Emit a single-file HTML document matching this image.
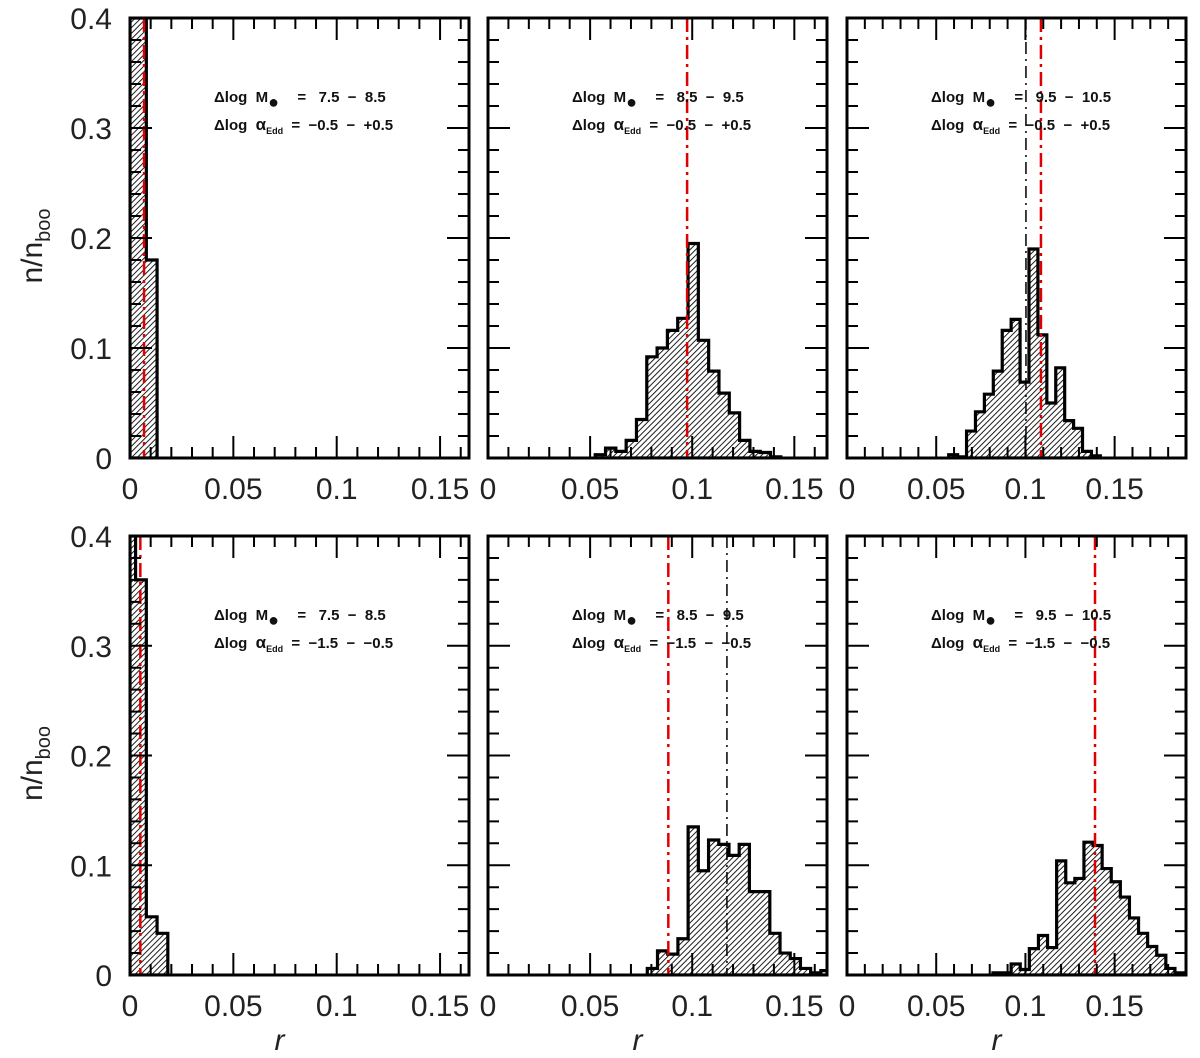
<!DOCTYPE html>
<html><head><meta charset="utf-8">
<style>
html,body{margin:0;padding:0;background:#fff;}
svg{display:block;font-family:"Liberation Sans","DejaVu Sans",sans-serif;}
.tl{font-size:30px;fill:#222;}
.ann{font-size:15px;font-weight:bold;fill:#111;white-space:pre;}
</style></head>
<body>
<svg id="fig" width="1200" height="1058" viewBox="0 0 1200 1058" xmlns="http://www.w3.org/2000/svg">
<defs>
<pattern id="hatch" patternUnits="userSpaceOnUse" width="4" height="4" patternTransform="rotate(45)">
<rect width="4" height="4" fill="#fff"/>
<line x1="0" y1="0" x2="0" y2="4" stroke="#111" stroke-width="1.9"/>
</pattern>
</defs>
<g id="root"></g>
</svg>
<script>
// ---- data ----
const panelNames = ["top-left","top-middle","top-right","bottom-left","bottom-middle","bottom-right"];
const massRanges = ["7.5  −  8.5","8.5  −  9.5","9.5  −  10.5","7.5  −  8.5","8.5  −  9.5","9.5  −  10.5"];
const eddRanges = ["−0.5  −  +0.5","−0.5  −  +0.5","−0.5  −  +0.5","−1.5  −  −0.5","−1.5  −  −0.5","−1.5  −  −0.5"];
const binStarts = [-0.0025, 0.0525, 0.057, -0.0025, 0.078, 0.0818];
const binWidths = [0.0052, 0.00505, 0.005, 0.0052, 0.005, 0.0051];
const valuesTL = [0.45, 0.45, 0.18];
const valuesTM = [0.003,0.009,0.006,0.016,0.035,0.092,0.100,0.116,0.127,0.195,0.107,0.079,0.059,0.041,0.016,0.006,0.005,0.001];
const valuesTR = [0.003,0.001,0.0245,0.042,0.058,0.079,0.116,0.126,0.069,0.19,0.112,0.05,0.082,0.034,0.027,0.006,0.002];
const valuesBL = [0.45, 0.36, 0.053, 0.038];
const valuesBM = [0.006,0.022,0.019,0.033,0.135,0.095,0.123,0.119,0.109,0.119,0.076,0.076,0.038,0.020,0.015,0.006,0.002,0.004];
const valuesBR = [0.002,0.002,0.010,0.005,0.024,0.036,0.025,0.104,0.084,0.088,0.121,0.118,0.097,0.085,0.071,0.052,0.038,0.026,0.018,0.006,0.002];
const redLines = [0.0068, 0.0975, 0.1087, 0.005, 0.0883, 0.139];
const blackLines = [null, null, 0.1003, null, 0.117, null];
const xTicks = [0, 0.05, 0.1, 0.15];
const xTickLabels = ["0", "0.05", "0.1", "0.15"];
const yTicks = [0, 0.1, 0.2, 0.3, 0.4];
const yTickLabels = ["0", "0.1", "0.2", "0.3", "0.4"];
const rMax = [0.164, 0.166, 0.19, 0.164, 0.166, 0.19];
const yMax = 0.4;

// ---- layout ----
const colX = [[130,469],[488,827],[847,1186]];
const rowY = [[18,458],[536,975]];
const NS = "http://www.w3.org/2000/svg";
const root = document.getElementById('root');
function mk(tag, attrs, parent){
  const e = document.createElementNS(NS, tag);
  for (const k in attrs) e.setAttribute(k, attrs[k]);
  (parent||root).appendChild(e);
  return e;
}
const allValues = [valuesTL, valuesTM, valuesTR, valuesBL, valuesBM, valuesBR];

for (let p = 0; p < 6; p++) {
  const row = Math.floor(p/3), col = p%3;
  const x0 = colX[col][0], x1 = colX[col][1];
  const yTop = rowY[row][0], yBot = rowY[row][1];
  const xs = r => x0 + (r / rMax[p]) * (x1 - x0);
  const ys = v => yBot - (Math.min(v, yMax) / yMax) * (yBot - yTop);
  const g = mk('g', {});
  
  
  const clipId = 'clip' + p;
  const cp = mk('clipPath', {id: clipId}, g);
  mk('rect', {x: x0, y: yTop, width: x1-x0, height: yBot-yTop}, cp);

  // histogram
  const vals = allValues[p];
  let d = '';
  let started = false;
  for (let i = 0; i < vals.length; i++) {
    let a = binStarts[p] + i*binWidths[p], b = a + binWidths[p];
    a = Math.max(a, 0); b = Math.min(b, rMax[p]);
    const xa = xs(a), xb = xs(b), yv = ys(vals[i]);
    if (!started) { d += 'M' + xa + ',' + yBot + ' L' + xa + ',' + yv; started = true; }
    else d += ' L' + xa + ',' + yv;
    d += ' L' + xb + ',' + yv;
    if (i === vals.length - 1) d += ' L' + xb + ',' + yBot + ' Z';
  }
  const hist = mk('path', {d: d, fill: 'url(#hatch)', stroke: '#000', 'stroke-width': 3.2, 'stroke-linejoin': 'miter', 'clip-path': 'url(#' + clipId + ')'}, g);
  
  

  // reference lines
  if (blackLines[p] !== null) {
    const bl = mk('line', {x1: xs(blackLines[p]), x2: xs(blackLines[p]), y1: yTop, y2: yBot, stroke: '#000', 'stroke-width': 1.5, 'stroke-dasharray': '12 5 2 5'}, g);
    
    
  }
  const rl = mk('line', {x1: xs(redLines[p]), x2: xs(redLines[p]), y1: yTop, y2: yBot, stroke: '#e00000', 'stroke-width': 2.5, 'stroke-dasharray': '14 5 3 5'}, g);
  
  

  // ticks
  let td = '';
  for (let r = 0; r <= rMax[p] + 1e-9; r += 0.01) {
    const rr = Math.round(r*100)/100;
    const major = Math.abs(rr*20 - Math.round(rr*20)) < 1e-6;
    const L = major ? 22 : 11;
    const x = xs(rr);
    td += 'M'+x+','+yBot+' v'+(-L)+' M'+x+','+yTop+' v'+L+' ';
  }
  for (let v = 0; v <= yMax + 1e-9; v += 0.02) {
    const vv = Math.round(v*100)/100;
    const major = Math.abs(vv*10 - Math.round(vv*10)) < 1e-6;
    const L = major ? 22 : 11;
    const y = ys(vv);
    td += 'M'+x0+','+y+' h'+L+' M'+x1+','+y+' h'+(-L)+' ';
  }
  const ticks = mk('path', {d: td, stroke: '#000', 'stroke-width': 2, fill: 'none'}, g);
  
  

  const frame = mk('rect', {x: x0, y: yTop, width: x1-x0, height: yBot-yTop, fill: 'none', stroke: '#000', 'stroke-width': 3}, g);
  
  

  // x tick labels
  for (let i = 0; i < xTicks.length; i++) {
    if (xTicks[i] > rMax[p]) continue;
    const t = mk('text', {x: xs(xTicks[i]), y: yBot + 41, 'text-anchor': 'middle', class: 'tl'}, g);
    t.textContent = xTickLabels[i];
    
    
  }
  // y tick labels
  if (col === 0) {
    for (let i = 0; i < yTicks.length; i++) {
      const t = mk('text', {x: 112, y: ys(yTicks[i]) + 11, 'text-anchor': 'end', class: 'tl'}, g);
      t.textContent = yTickLabels[i];
      
      
    }
    const yl = mk('text', {transform: 'translate(42,' + ((yTop+yBot)/2 + 8) + ') rotate(-90)', 'text-anchor': 'middle', class: 'tl'}, g);
    yl.innerHTML = 'n/n<tspan font-size="20" dy="8">boo</tspan>';
    
    
  }
  if (row === 1) {
    const xl = mk('text', {x: (x0+x1)/2 - 20, y: 1050, 'text-anchor': 'middle', class: 'tl', 'font-style': 'italic'}, g);
    xl.textContent = 'r';
    
    
  }
  // annotation
  const ax = x0 + 84, ay = yTop + 84;
  const a1 = mk('text', {x: ax, y: ay, class: 'ann'}, g);
  a1.innerHTML = 'Δlog  M<tspan font-size="18" dy="6">●</tspan><tspan dy="-6" dx="10">  =   ' + massRanges[p] + '</tspan>';
  
  
  const a2 = mk('text', {x: ax, y: ay + 28, class: 'ann'}, g);
  a2.innerHTML = 'Δlog  <tspan font-size="17">α</tspan><tspan font-size="9" dy="4">Edd</tspan><tspan dy="-4">  =  ' + eddRanges[p] + '</tspan>';
  
  
}
</script>
</body></html>
